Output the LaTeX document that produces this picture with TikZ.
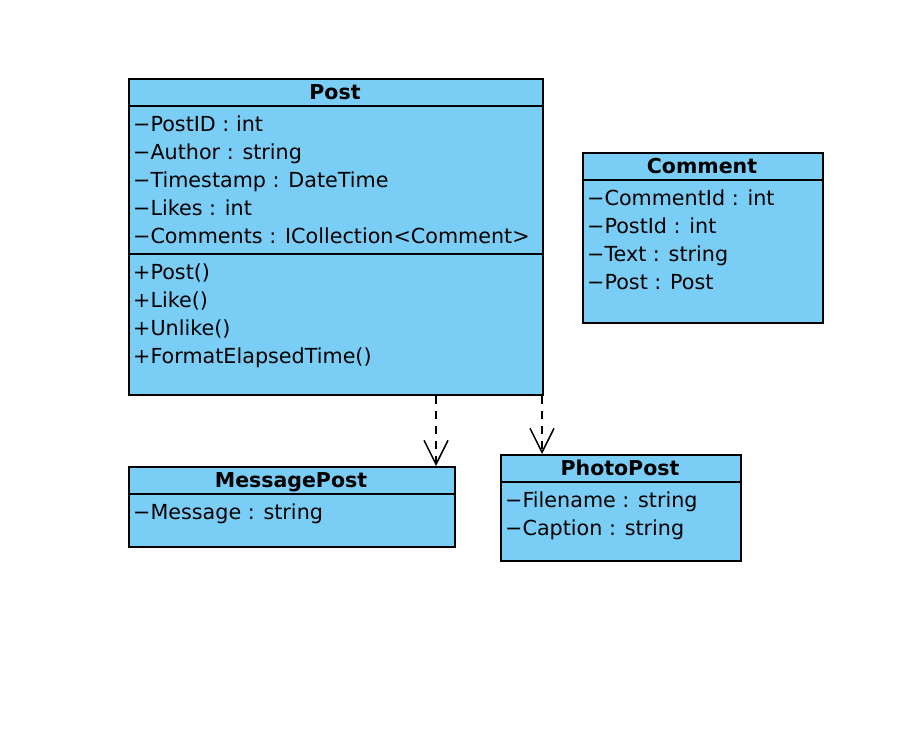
\documentclass[tikz,border=0pt]{standalone}
\usepackage{fontspec}
\setmainfont{DejaVu Sans}
\usetikzlibrary{arrows.meta}
\definecolor{classfill}{RGB}{122,206,245}
\tikzset{
  classbox/.style={draw=black, fill=classfill, line width=1.6pt, anchor=north west, inner sep=0pt},
  sepline/.style={line width=1.6pt},
  ttl/.style={font=\fontsize{20.5}{24}\selectfont\bfseries, inner sep=0pt, text height=15pt, text depth=0pt},
  mem/.style={font=\fontsize{20.7}{24}\selectfont, anchor=west, inner sep=0pt, text height=15pt, text depth=0pt},
  realize/.style={line width=1.5pt, dash pattern=on 8pt off 7pt, -{Straight Barb[length=24pt,width=24pt,line width=1.5pt]}}
}
\begin{document}
\begin{tikzpicture}[x=1pt,y=-1pt]
\useasboundingbox (0,0) rectangle (924,736);
% Post
\node[classbox, minimum width=414pt, minimum height=316pt] (post) at (128,78) {};
\draw[sepline] (128,106) -- (542,106);
\draw[sepline] (128,254) -- (542,254);
\node[ttl] (posttitle) at (335,92) {Post};
\node[mem] (p1) at (133,124) {−PostID : int};
\node[mem] (p2) at (133,152) {−Author : string};
\node[mem] (p3) at (133,180) {−Timestamp : DateTime};
\node[mem] (p4) at (133,208) {−Likes : int};
\node[mem] (p5) at (133,236) {−Comments : ICollection<Comment>};
\node[mem] (p6) at (133,272) {+Post()};
\node[mem] (p7) at (133,300) {+Like()};
\node[mem] (p8) at (133,328) {+Unlike()};
\node[mem] (p9) at (133,356) {+FormatElapsedTime()};
% Comment
\node[classbox, minimum width=240pt, minimum height=170pt] (comment) at (582,152) {};
\draw[sepline] (582,180) -- (822,180);
\node[ttl] (ctitle) at (702,166) {Comment};
\node[mem] (c1) at (587,198) {−CommentId : int};
\node[mem] (c2) at (587,226) {−PostId : int};
\node[mem] (c3) at (587,254) {−Text : string};
\node[mem] (c4) at (587,282) {−Post : Post};
% MessagePost
\node[classbox, minimum width=326pt, minimum height=80pt] (msg) at (128,466) {};
\draw[sepline] (128,494) -- (454,494);
\node[ttl] (mtitle) at (291,480) {MessagePost};
\node[mem] (m1) at (133,512) {−Message : string};
% PhotoPost
\node[classbox, minimum width=240pt, minimum height=106pt] (photo) at (500,454) {};
\draw[sepline] (500,482) -- (740,482);
\node[ttl] (phtitle) at (620,468) {PhotoPost};
\node[mem] (ph1) at (505,500) {−Filename : string};
\node[mem] (ph2) at (505,528) {−Caption : string};
% connectors
\draw[realize] (post.south -| 436,0) -- (msg.north -| 436,0);
\draw[realize] (post.south -| 542,0) -- (photo.north -| 542,0);
\end{tikzpicture}
\end{document}
